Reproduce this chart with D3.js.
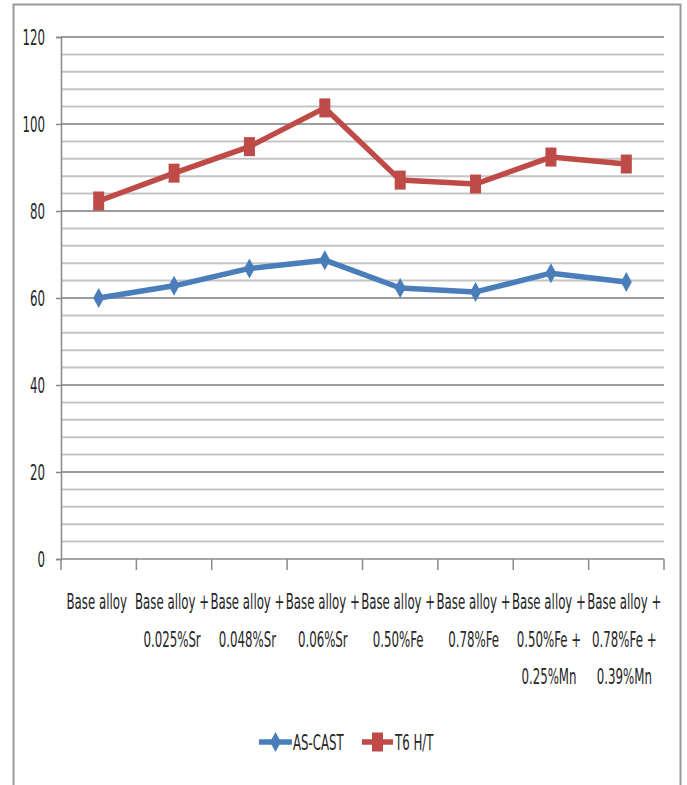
<!DOCTYPE html>
<html>
<head>
<meta charset="utf-8">
<script src="https://cdn.jsdelivr.net/npm/d3@7"></script>
<style>
  html, body { margin: 0; padding: 0; background: #fff; }
  svg text { font-family: "DejaVu Sans Condensed", "Liberation Sans Narrow", sans-serif; fill: #262626; }
</style>
</head>
<body>
<svg id="chart" width="687" height="785"></svg>
<script>
// Alloy conditions along the x axis (each entry is one label, split into lines)
const categories = [
  ["Base alloy"],
  ["Base alloy +", "0.025%Sr"],
  ["Base alloy +", "0.048%Sr"],
  ["Base alloy +", "0.06%Sr"],
  ["Base alloy +", "0.50%Fe"],
  ["Base alloy +", "0.78%Fe"],
  ["Base alloy +", "0.50%Fe +", "0.25%Mn"],
  ["Base alloy +", "0.78%Fe +", "0.39%Mn"]
];
const asCast = [60.0, 62.8, 66.8, 68.7, 62.3, 61.4, 65.7, 63.7];
const t6 = [82.3, 88.7, 94.8, 103.7, 87.1, 86.2, 92.4, 90.8];
const seriesNames = ["AS-CAST", "T6 H/T"];
const yTicks = [0, 20, 40, 60, 80, 100, 120];
const yMinorStep = 4;

const svg = d3.select("#chart");
// narrow, tall lettering
const textScale = "scale(0.82,1.3)";

const plotLeft = 61, plotRight = 664, plotTop = 37, plotBottom = 559;
const keys = categories.map((c, i) => i);
const x = d3.scaleBand().domain(keys).range([plotLeft, plotRight]);
const y = d3.scaleLinear().domain([0, 120]).range([plotBottom, plotTop]);

// chart frame
svg.append("rect")
  .attr("x", 13.5).attr("y", 4.5).attr("width", 667).attr("height", 800)
  .attr("fill", "#fff").attr("stroke", "#9a9a9a").attr("stroke-width", 2);

// gridlines: minor every 4 units, major at labelled ticks
const minor = d3.range(0, 121, yMinorStep).filter(v => !yTicks.includes(v));
svg.append("g").selectAll("line").data(minor).join("line")
  .attr("x1", plotLeft).attr("x2", plotRight)
  .attr("y1", d => y(d)).attr("y2", d => y(d))
  .attr("stroke", "#c4c4c4").attr("stroke-width", 2);
svg.append("g").selectAll("line").data(yTicks.filter(v => v > 0)).join("line")
  .attr("x1", plotLeft).attr("x2", plotRight)
  .attr("y1", d => y(d)).attr("y2", d => y(d))
  .attr("stroke", "#9c9c9c").attr("stroke-width", 2);

// y axis
const yAxis = svg.append("g")
  .attr("transform", `translate(${plotLeft},0)`)
  .call(d3.axisLeft(y).tickValues(yTicks).tickSize(5).tickFormat(""));
yAxis.selectAll("path, line").attr("stroke", "#8a8a8a").attr("stroke-width", 1.5);

svg.append("g").selectAll("g").data(yTicks).join("g")
  .attr("transform", d => `translate(45,${y(d) + 7.5}) ${textScale}`)
  .append("text")
  .attr("text-anchor", "end")
  .attr("font-size", 16)
  .text(d => d);

// x axis with ticks on category boundaries
const xAxisG = svg.append("g");
xAxisG.append("line")
  .attr("x1", plotLeft).attr("x2", plotRight).attr("y1", plotBottom).attr("y2", plotBottom)
  .attr("stroke", "#8a8a8a").attr("stroke-width", 1.5);
const bounds = keys.map(k => x(k)).concat([x(keys[keys.length - 1]) + x.bandwidth()]);
xAxisG.selectAll("line.tick").data(bounds).join("line")
  .attr("class", "tick")
  .attr("x1", d => d).attr("x2", d => d)
  .attr("y1", plotBottom).attr("y2", plotBottom + 11)
  .attr("stroke", "#8a8a8a").attr("stroke-width", 1.5);

const lineGap = 37.5;
const labels = svg.append("g").selectAll("g").data(categories).join("g");
labels.each(function(lines, i) {
  d3.select(this).selectAll("g").data(lines).join("g")
    .attr("transform", (d, j) => `translate(${x(i) + x.bandwidth() / 2 - 2},${609 + j * lineGap}) ${textScale}`)
    .append("text")
    .attr("text-anchor", "middle")
    .attr("font-size", 16)
    .text(d => d);
});

// series
const colors = ["#4a7ebb", "#be4b48"];
const markerW = 11, markerH = 20;
function markerPath(kind) {
  if (kind === 0) {
    return `M0,${-markerH / 2}L${markerW / 2},0L0,${markerH / 2}L${-markerW / 2},0Z`;
  }
  const w = 11, h = 19;
  return `M${-w / 2},${-h / 2}H${w / 2}V${h / 2}H${-w / 2}Z`;
}
const line = d3.line().x((d, i) => x(i) + x.bandwidth() / 2).y(d => y(d));

[asCast, t6].forEach((vals, s) => {
  const g = svg.append("g");
  g.append("path").datum(vals)
    .attr("d", line)
    .attr("fill", "none")
    .attr("stroke", colors[s])
    .attr("stroke-width", 5.5)
    .attr("stroke-linejoin", "round");
  g.selectAll("path.m").data(vals).join("path")
    .attr("class", "m")
    .attr("transform", (d, i) => `translate(${x(i) + x.bandwidth() / 2},${y(d)})`)
    .attr("d", markerPath(s))
    .attr("fill", colors[s]);
});

// legend
const legendItems = [
  { x0: 259, x1: 292, tx: 293 },
  { x0: 362, x1: 393, tx: 395 }
];
const ly = 742;
legendItems.forEach((it, s) => {
  const g = svg.append("g");
  g.append("line")
    .attr("x1", it.x0).attr("x2", it.x1).attr("y1", ly).attr("y2", ly)
    .attr("stroke", colors[s]).attr("stroke-width", 5.5);
  g.append("path")
    .attr("transform", `translate(${(it.x0 + it.x1) / 2},${ly})`)
    .attr("d", markerPath(s))
    .attr("fill", colors[s]);
  g.append("g")
    .attr("transform", `translate(${it.tx},${ly + 7.5}) ${textScale}`)
    .append("text")
    .attr("font-size", 16)
    .text(seriesNames[s]);
});
</script>
</body>
</html>
